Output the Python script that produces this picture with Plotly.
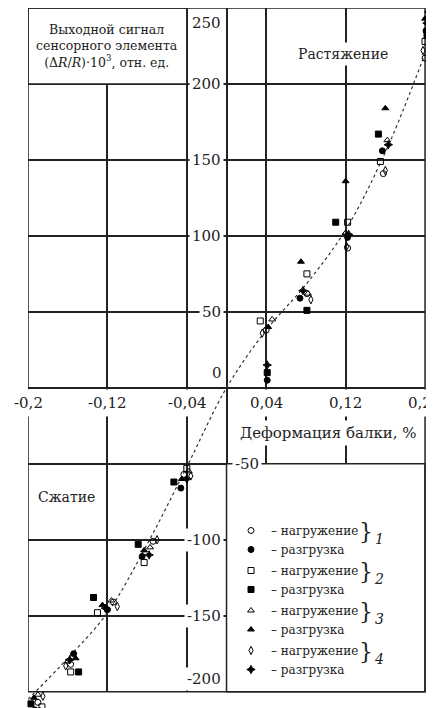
import plotly.graph_objects as go

# ---- data ----
curve_x = [-0.2, -0.16, -0.12, -0.08, -0.04, 0.0, 0.04, 0.08, 0.12, 0.16, 0.2]
curve_y = [-205, -178, -148, -103, -52, 0, 38, 68, 104, 155, 220]

s1_load_x = [-0.190, -0.157, -0.114, -0.074, -0.043, 0.040, 0.081, 0.122, 0.158, 0.200]
s1_load_y = [-207, -182, -141, -101, -57, 38, 62, 92, 141, 217]
s1_unload_x = [-0.193, -0.154, -0.120, -0.085, -0.046, 0.041, 0.074, 0.122, 0.157, 0.201]
s1_unload_y = [-212, -175, -146, -111, -66, 5, 59, 99, 156, 235]

s2_load_x = [-0.186, -0.157, -0.130, -0.083, -0.040, 0.034, 0.081, 0.122, 0.155, 0.200]
s2_load_y = [-210, -187, -148, -115, -53, 44, 75, 109, 149, 228]
s2_unload_x = [-0.197, -0.149, -0.134, -0.089, -0.053, 0.041, 0.081, 0.110, 0.153, 0.202]
s2_unload_y = [-208, -187, -138, -103, -62, 10, 51, 109, 167, 232]

s3_load_x = [-0.190, -0.160, -0.116, -0.077, -0.038, 0.046, 0.082, 0.120, 0.162, 0.203]
s3_load_y = [-202, -180, -140, -105, -55, 45, 62, 102, 163, 248]
s3_unload_x = [-0.194, -0.152, -0.125, -0.083, -0.045, 0.042, 0.075, 0.120, 0.160, 0.200]
s3_unload_y = [-204, -178, -143, -107, -60, 40, 83, 136, 184, 243]

s4_load_x = [-0.185, -0.162, -0.110, -0.070, -0.036, 0.036, 0.085, 0.121, 0.160, 0.198]
s4_load_y = [-203, -183, -144, -100, -58, 36, 58, 93, 143, 222]
s4_unload_x = [-0.188, -0.158, -0.122, -0.078, -0.040, 0.041, 0.077, 0.123, 0.163, 0.202]
s4_unload_y = [-213, -179, -145, -110, -60, 15, 64, 101, 160, 240]

x_frame = [-0.2, 0.2]
y_frame = [-200, 250]
x_grid = [-0.12, -0.04, 0, 0.04, 0.12]
y_grid = [-150, -100, -50, 0, 50, 100, 150, 200]

x_tick_vals = [-0.2, -0.12, -0.04, 0.04, 0.12, 0.2]
x_tick_text = ["-0,2", "-0,12", "-0,04", "0,04", "0,12", "0,2"]
y_tick_vals_left = [250, 200, 150, 100, 50, -100, -150, -200]
y_tick_text_left = ["250", "200", "150", "100", "50", "-100", "-150", "-200"]
y_tick_vals_right = [-50]
y_tick_text_right = ["-50"]

load_name = "– нагружение"
unload_name = "– разгрузка"
group_numbers = ["1", "2", "3", "4"]

FONT = "DejaVu Serif"
# axis ranges slightly larger than the frame so that the outermost markers stay visible
X_RANGE = [-0.2, 0.206]
Y_RANGE = [-216, 250]

fig = go.Figure()

fig.add_trace(go.Scatter(x=curve_x, y=curve_y, mode="lines", line_shape="spline",
                         line=dict(color="#333", width=1.2, dash="dot"),
                         showlegend=False, hoverinfo="skip"))

series = [
    (s1_load_x, s1_load_y, "circle-open", load_name, "g1"),
    (s1_unload_x, s1_unload_y, "circle", unload_name, "g1"),
    (s2_load_x, s2_load_y, "square-open", load_name, "g2"),
    (s2_unload_x, s2_unload_y, "square", unload_name, "g2"),
    (s3_load_x, s3_load_y, "triangle-up-open", load_name, "g3"),
    (s3_unload_x, s3_unload_y, "triangle-up", unload_name, "g3"),
    (s4_load_x, s4_load_y, "diamond-tall-open", load_name, "g4"),
    (s4_unload_x, s4_unload_y, "star-diamond", unload_name, "g4"),
]
for xs, ys, sym, name, grp in series:
    fig.add_trace(go.Scatter(x=xs, y=ys, mode="markers", name=name, legendgroup=grp,
                             marker=dict(symbol=sym, size=6, color="black",
                                         line=dict(color="black", width=1)),
                             cliponaxis=False))

# white strips outside the frame (hide grid stubs), frame, title box, legend box
fig.add_shape(type="rect", x0=X_RANGE[0], x1=X_RANGE[1], y0=Y_RANGE[0], y1=y_frame[0],
              xref="x", yref="y", fillcolor="white", line=dict(width=0), layer="between")
fig.add_shape(type="rect", x0=x_frame[1], x1=X_RANGE[1], y0=Y_RANGE[0], y1=Y_RANGE[1],
              xref="x", yref="y", fillcolor="white", line=dict(width=0), layer="between")
fig.add_shape(type="rect", x0=-0.2, x1=-0.04, y0=200, y1=250, xref="x", yref="y",
              fillcolor="white", line=dict(color="#222", width=1.5), layer="between")
fig.add_shape(type="rect", x0=0, x1=0.2, y0=-200, y1=-50, xref="x", yref="y",
              fillcolor="white", line=dict(color="#222", width=1.5), layer="between")
fig.add_shape(type="rect", x0=x_frame[0], x1=x_frame[1], y0=y_frame[0], y1=y_frame[1],
              xref="x", yref="y", fillcolor="rgba(0,0,0,0)",
              line=dict(color="#222", width=1.5), layer="between")

ann = []
for v, t in zip(x_tick_vals, x_tick_text):
    xs_ = -5 if v == 0.2 else 0
    ann.append(dict(x=v, y=0, xref="x", yref="y", text=t, showarrow=False,
                    yshift=-15, xshift=xs_, font=dict(family=FONT, size=15, color="#222"),
                    bgcolor="white", borderpad=4))
for v, t in zip(y_tick_vals_left, y_tick_text_left):
    ys = 0
    if v == 250:
        ys = -15
    if v == -200:
        ys = 13
    ann.append(dict(x=0, y=v, xref="x", yref="y", text=t, showarrow=False,
                    xanchor="right", xshift=-3, yshift=ys,
                    font=dict(family=FONT, size=15, color="#222"),
                    bgcolor="white", borderpad=2))
for v, t in zip(y_tick_vals_right, y_tick_text_right):
    ann.append(dict(x=0, y=v, xref="x", yref="y", text=t, showarrow=False,
                    xanchor="left", xshift=5,
                    font=dict(family=FONT, size=15, color="#222"),
                    bgcolor="white", borderpad=2))
ann.append(dict(x=0, y=0, xref="x", yref="y", text="0", showarrow=False,
                xanchor="right", xshift=-3, yshift=15,
                font=dict(family=FONT, size=15, color="#222")))

ann.append(dict(x=-0.12, y=225, xref="x", yref="y",
                text="Выходной сигнал<br>сенсорного элемента<br>(Δ<i>R</i>/<i>R</i>)·10<sup>3</sup>, отн. ед.",
                showarrow=False, font=dict(family=FONT, size=12.5, color="#222")))
ann.append(dict(x=0.117, y=220, xref="x", yref="y", text="Растяжение", showarrow=False,
                font=dict(family=FONT, size=14, color="#222"), bgcolor="white", borderpad=3))
ann.append(dict(x=-0.161, y=-72, xref="x", yref="y", text="Сжатие", showarrow=False,
                font=dict(family=FONT, size=14, color="#222")))
ann.append(dict(x=0.103, y=-30, xref="x", yref="y", text="Деформация балки, %", showarrow=False,
                font=dict(family=FONT, size=15, color="#222"), bgcolor="white", borderpad=3))

# page body has an 8px margin; plot area spans screen x 28..431, y 8..716
W_PLOT = 403
H_PLOT = 708


def px_to_paper_x(sx):
    return (sx - 28) / W_PLOT


def px_to_paper_y(sy):
    return (716 - sy) / H_PLOT


brace_y_px = [546, 586, 626, 666]
for yp, num in zip(brace_y_px, group_numbers):
    ann.append(dict(x=px_to_paper_x(375), y=px_to_paper_y(yp), xref="paper", yref="paper",
                    text="}", showarrow=False, font=dict(family=FONT, size=22, color="#222")))
    ann.append(dict(x=px_to_paper_x(386), y=px_to_paper_y(yp + 3), xref="paper", yref="paper",
                    text="<i>" + num + "</i>", showarrow=False,
                    font=dict(family=FONT, size=14, color="#222")))

fig.update_layout(
    width=434, height=708,
    margin=dict(l=20, r=11, t=0, b=0),
    paper_bgcolor="white", plot_bgcolor="white",
    annotations=ann,
    showlegend=True,
    legend=dict(x=px_to_paper_x(231), y=px_to_paper_y(516), xanchor="left", yanchor="top",
                bgcolor="rgba(0,0,0,0)", font=dict(family=FONT, size=12, color="#222"),
                tracegroupgap=2, traceorder="grouped", itemwidth=30),
    xaxis=dict(range=X_RANGE, tickvals=x_grid, showticklabels=False, ticks="",
               showgrid=True, gridcolor="#222", gridwidth=1.5, zeroline=False,
               showline=False, fixedrange=True),
    yaxis=dict(range=Y_RANGE, tickvals=y_grid, showticklabels=False, ticks="",
               showgrid=True, gridcolor="#222", gridwidth=1.5, zeroline=False,
               showline=False, fixedrange=True),
)

fig.write_html("out.html")
